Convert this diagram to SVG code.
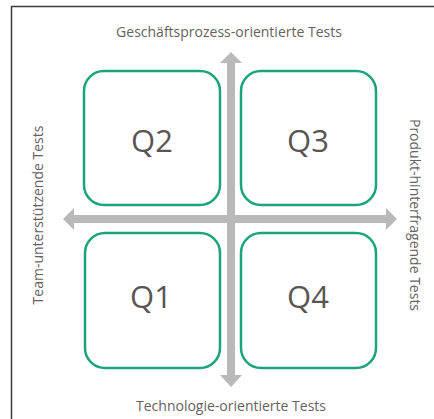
<svg xmlns="http://www.w3.org/2000/svg" width="434" height="419" viewBox="0 0 434 419">
  <defs>
    <style>
      .quad { fill: #ffffff; stroke: #1aa37d; stroke-width: 2.5; }
      .qlabel { font-family: "Open Sans", "Liberation Sans", sans-serif; font-size: 31px; fill: #5a5555; text-anchor: middle; }
      .axis-label { font-family: "Open Sans", "Liberation Sans", sans-serif; font-size: 14px; fill: #666262; text-anchor: middle; }
      .axis { fill: #b9b9b9; }
    </style>
  </defs>

  <!-- background and frame -->
  <rect x="0" y="0" width="434" height="419" fill="#ffffff"/>
  <path d="M11.5 419 V6.5 H434" fill="none" stroke="#3a3a3a" stroke-width="1.5"/>

  <!-- axis labels -->
  <text class="axis-label" x="229" y="37">Geschäftsprozess-orientierte Tests</text>
  <text class="axis-label" x="231" y="411">Technologie-orientierte Tests</text>
  <text class="axis-label" transform="translate(43 215) rotate(-90)">Team-unterstützende Tests</text>
  <text class="axis-label" transform="translate(410 215) rotate(90)">Produkt-hinterfragende Tests</text>

  <!-- quadrants -->
  <g id="q2">
    <rect class="quad" x="84" y="71" width="136" height="134" rx="20"/>
    <text class="qlabel" x="152" y="152">Q2</text>
  </g>
  <g id="q3">
    <rect class="quad" x="241" y="71" width="135" height="134" rx="20"/>
    <text class="qlabel" x="308" y="152">Q3</text>
  </g>
  <g id="q1">
    <rect class="quad" x="85" y="233" width="135" height="135" rx="20"/>
    <text class="qlabel" x="151" y="308">Q1</text>
  </g>
  <g id="q4">
    <rect class="quad" x="241" y="233" width="135" height="135" rx="20"/>
    <text class="qlabel" x="308" y="308">Q4</text>
  </g>

  <!-- axes -->
  <g id="connectors">
    <path class="axis" d="M231 52 L242 63 L235 63 L235 375 L242 375 L231 387 L220 375 L227 375 L227 63 L220 63 Z"/>
    <path class="axis" d="M63 219 L74 208 L74 215 L386 215 L386 208 L397 219 L386 230 L386 223 L74 223 L74 230 Z"/>
  </g>
</svg>
